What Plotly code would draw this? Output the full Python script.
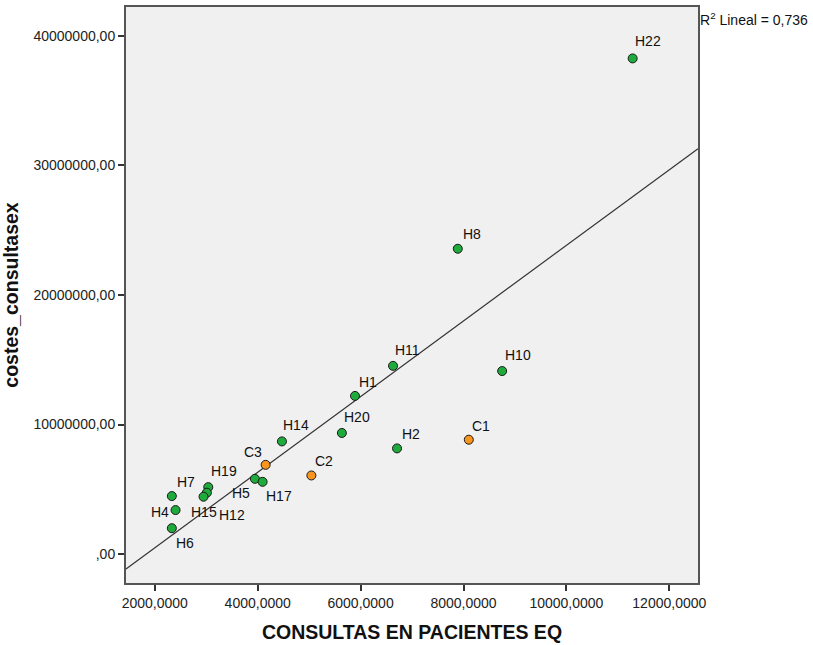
import numpy as np
import plotly.graph_objects as go

labels = ["H22", "H8", "H11", "H10", "H1", "H20", "H2", "C1", "H14", "C3",
          "C2", "H5", "H17", "H19", "H12", "H15", "H7", "H4", "H6"]
consultas = [11288, 7889, 6630, 8751, 5891, 5636, 6708, 8103, 4471, 4154,
             5043, 3946, 4095, 3039, 3012, 2947, 2331, 2403, 2331]
costes = [38.26e6, 23.57e6, 14.53e6, 14.13e6, 12.21e6, 9.35e6, 8.16e6, 8.83e6, 8.70e6, 6.89e6,
          6.07e6, 5.81e6, 5.58e6, 5.17e6, 4.74e6, 4.43e6, 4.48e6, 3.40e6, 2.00e6]

x_tickvals = [2000, 4000, 6000, 8000, 10000, 12000]
x_ticktext = ["2000,0000", "4000,0000", "6000,0000", "8000,0000", "10000,0000", "12000,0000"]
y_tickvals = [0, 10e6, 20e6, 30e6, 40e6]
y_ticktext = [",00", "10000000,00", "20000000,00", "30000000,00", "40000000,00"]

# label offsets in pixels (dx right, dy up)
label_offsets = {
    "H22": (15, 17), "H8": (14, 15), "H11": (14, 16), "H10": (16, 16), "H1": (13, 14),
    "H20": (15, 16), "H2": (14, 14), "C1": (12, 14), "H14": (14, 16), "C3": (-13, 13),
    "C2": (13, 14), "H5": (-14, -14), "H17": (16, -14), "H19": (16, 16), "H12": (25, -22),
    "H15": (0, -15), "H7": (14, 14), "H4": (-16, -2), "H6": (13, -15),
}

GREEN = "#1faa3c"
ORANGE = "#f7951e"
colors = [ORANGE if l.startswith("C") else GREEN for l in labels]

x_range = [1440, 12558]
y_range = [-2.23e6, 42.23e6]

xa = np.array(consultas, dtype=float)
ya = np.array(costes, dtype=float)
slope, intercept = np.polyfit(xa, ya, 1)
fit_x = np.array(x_range)
fit_y = slope * fit_x + intercept

FONT = "Liberation Sans, Arial, sans-serif"

fig = go.Figure()
fig.add_trace(go.Scatter(x=fit_x, y=fit_y, mode="lines",
                         line=dict(color="#333333", width=1.2), hoverinfo="skip",
                         showlegend=False))
fig.add_trace(go.Scatter(x=consultas, y=costes, mode="markers",
                         marker=dict(size=9, color=colors, line=dict(color="#1a1a1a", width=1)),
                         text=labels, showlegend=False))

for l, xv, yv in zip(labels, consultas, costes):
    dx, dy = label_offsets[l]
    fig.add_annotation(x=xv, y=yv, text=l, showarrow=False, xshift=dx, yshift=dy,
                       font=dict(family=FONT, size=14, color="#111111"))

fig.add_annotation(xref="paper", yref="paper", x=1.0, y=1.0, xanchor="left", yanchor="top",
                   xshift=0, yshift=-1,
                   text="R<sup>2</sup> Lineal = 0,736", showarrow=False,
                   font=dict(family=FONT, size=14, color="#111111"))

fig.update_layout(
    width=813, height=645,
    margin=dict(l=126, r=115, t=5, b=61),
    paper_bgcolor="white", plot_bgcolor="#f0f0f0",
    font=dict(family=FONT, size=14, color="#222222"),
    xaxis=dict(range=x_range, tickvals=x_tickvals, ticktext=x_ticktext,
               showgrid=False, zeroline=False, showline=True, mirror=True,
               linecolor="#555555", linewidth=2, ticks="outside", ticklen=6,
               tickcolor="#333333", tickwidth=1.5,
               tickfont=dict(family=FONT, size=14, color="#222222"),
               title=dict(text="<b>CONSULTAS EN PACIENTES EQ</b>",
                          font=dict(family=FONT, size=19.5, color="#111111"), standoff=16)),
    yaxis=dict(range=y_range, tickvals=y_tickvals, ticktext=y_ticktext,
               showgrid=False, zeroline=False, showline=True, mirror=True,
               linecolor="#555555", linewidth=2, ticks="outside", ticklen=6,
               tickcolor="#333333", tickwidth=1.5,
               tickfont=dict(family=FONT, size=14, color="#222222"),
               title=dict(text="<b>costes_consultasex</b>",
                          font=dict(family=FONT, size=19.5, color="#111111"), standoff=12)),
)

fig.write_html("out.html")
